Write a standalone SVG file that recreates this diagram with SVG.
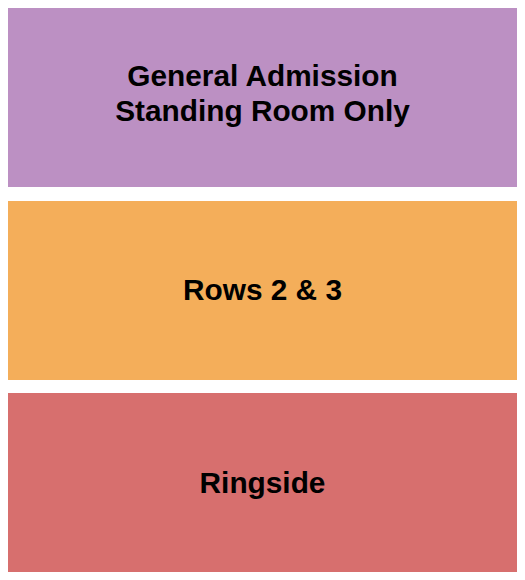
<svg xmlns="http://www.w3.org/2000/svg" width="525" height="580" viewBox="0 0 525 580">
<style>
.sec{stroke:none}
.lbl{font-family:"Liberation Sans",Arial,Helvetica,sans-serif;font-weight:bold;font-size:29.8px;fill:#000;text-anchor:middle}
</style>
<rect width="525" height="580" fill="#ffffff"/>
<g id="general-admission">
<rect class="sec" x="8" y="8" width="509" height="179" fill="#BC90C3"/>
<text class="lbl" x="262.5" y="86">General Admission</text>
<text class="lbl" x="262.5" y="121">Standing Room Only</text>
</g>
<g id="rows-2-3">
<rect class="sec" x="8" y="201" width="509" height="179" fill="#F4AE5A"/>
<text class="lbl" x="262.5" y="300">Rows 2 &amp; 3</text>
</g>
<g id="ringside">
<rect class="sec" x="8" y="393" width="509" height="179" fill="#D76F6E"/>
<text class="lbl" x="262.5" y="493">Ringside</text>
</g>
<g id="connectors"/>
</svg>
